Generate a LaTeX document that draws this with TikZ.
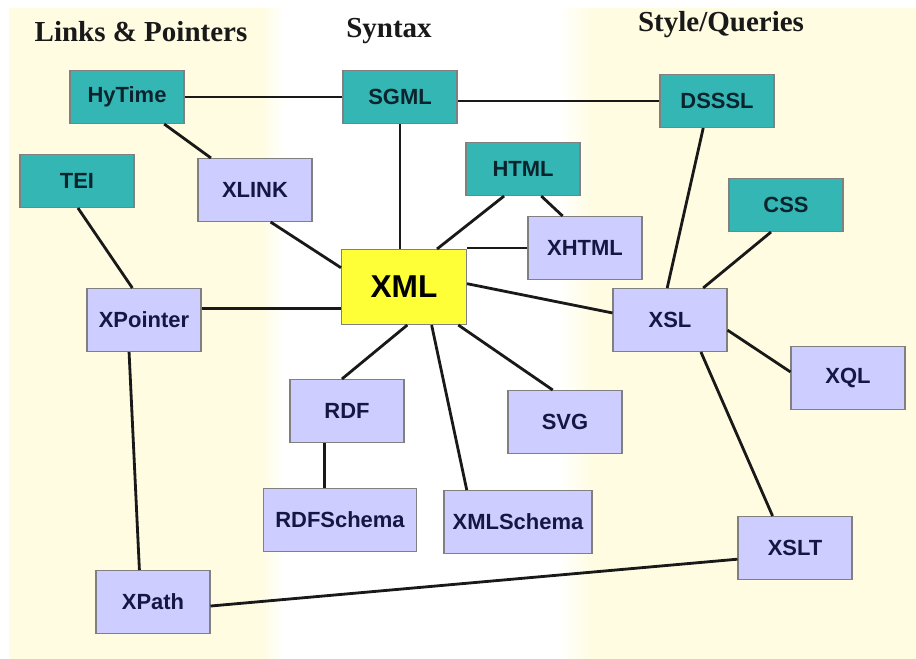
\documentclass[tikz,border=0pt]{standalone}
\usepackage{fontspec}
\setmainfont{Liberation Serif}
\setsansfont{Liberation Sans}
\definecolor{crema}{RGB}{255,252,226}
\definecolor{verdeazul}{RGB}{52,182,180}
\definecolor{lila}{RGB}{205,205,255}
\definecolor{amarillo}{RGB}{255,255,56}
\definecolor{tinta}{RGB}{22,22,66}
\definecolor{tintaverde}{RGB}{10,36,46}
\begin{document}
\begin{tikzpicture}[x=0.02cm,y=-0.02cm,
  caja/.style={draw=black!50,line width=0.6pt,font=\sffamily\bfseries\fontsize{12.5}{14}\selectfont,minimum width=2.28cm,minimum height=1.26cm,inner sep=1pt},
  viejo/.style={caja,fill=verdeazul,text=tintaverde,minimum height=1.06cm},
  nuevo/.style={caja,fill=lila,text=tinta},
  titulo/.style={font=\bfseries\fontsize{16.5}{19}\selectfont,text=black!90},
  enlace/.style={line width=1.6pt,black!90}]
  \useasboundingbox (0,0) rectangle (916,659);
  % fondo: tres columnas
  \fill[white] (0,0) rectangle (916,659);
  \fill[crema] (9,8) rectangle (262,659); \shade[left color=crema,right color=white] (262,8) rectangle (284,659);
  \shade[left color=white,right color=crema] (558,8) rectangle (592,659); \fill[crema] (592,8) rectangle (916,659);
  \node[titulo] (tLinks) at (141,32){Links \& Pointers};
  \node[titulo] (tSyntax) at (389,31){Syntax};
  \node[titulo] (tStyle) at (721,25){Style/Queries};
  % nodos
  \node[viejo] (HyTime) at (127,97){HyTime};
  \node[viejo] (SGML) at (400,97){SGML};
  \node[viejo] (DSSSL) at (717,101){DSSSL};
  \node[viejo] (TEI) at (77,181){TEI};
  \node[viejo] (HTML) at (523,169){HTML};
  \node[viejo] (CSS) at (786,205){CSS};
  \node[caja,fill=amarillo,text=black,font=\sffamily\bfseries\fontsize{18}{20}\selectfont,minimum width=2.5cm,minimum height=1.5cm] (XML) at (404,287){XML};
  \node[nuevo] (XLINK) at (255,190){XLINK};
  \node[nuevo] (XHTML) at (585,248){XHTML};
  \node[nuevo] (XPointer) at (144,320){XPointer};
  \node[nuevo] (XSL) at (670,320){XSL};
  \node[nuevo] (XQL) at (848,378){XQL};
  \node[nuevo] (RDF) at (347,411){RDF};
  \node[nuevo] (SVG) at (565,422){SVG};
  \node[nuevo,minimum width=3.06cm] (RDFSchema) at (340,520){RDFSchema};
  \node[nuevo,minimum width=2.96cm] (XMLSchema) at (518,522){XMLSchema};
  \node[nuevo] (XSLT) at (795,548){XSLT};
  \node[nuevo] (XPath) at (153,602){XPath};
  % enlaces
  \draw[enlace] (HyTime.east) -- (HyTime.east -| SGML.west); \draw[enlace] (DSSSL.west) -- (DSSSL.west -| SGML.east);
  \draw[enlace] (HyTime) -- (XLINK); \draw[enlace] (SGML.south) -- (SGML.south |- XML.north);
  \draw[enlace] (XLINK.296) -- (XML.163); \draw[enlace] (TEI.272) -- (XPointer.110);
  \draw[enlace] (XPointer.11) -- (XPointer.11 -| XML.west);
  \draw[enlace] (HTML.235) -- (XML.49); \draw[enlace] (HTML.304) -- (XHTML.125);
  \draw[enlace] (XHTML.west) -- (XHTML.west -| XML.east);
  \draw[enlace] (XML.3) -- (XSL.173); \draw[enlace] (DSSSL.243) -- (XSL.95); \draw[enlace] (CSS.241) -- (XSL.44);
  \draw[enlace] (XSL.350) -- (XQL.174); \draw[enlace] (XSL.314) -- (XSLT.125);
  \draw[enlace] (XSLT.191) -- (XPath.356); \draw[enlace] (XPointer.245) -- (XPath.113);
  \draw[enlace] (XML.275) -- (RDF.99); \draw[enlace] (RDF.235) -- (RDF.235 |- RDFSchema.north);
  \draw[enlace] (XML.306) -- (XMLSchema.148); \draw[enlace] (XML.325) -- (SVG.111);
\end{tikzpicture}
\end{document}
